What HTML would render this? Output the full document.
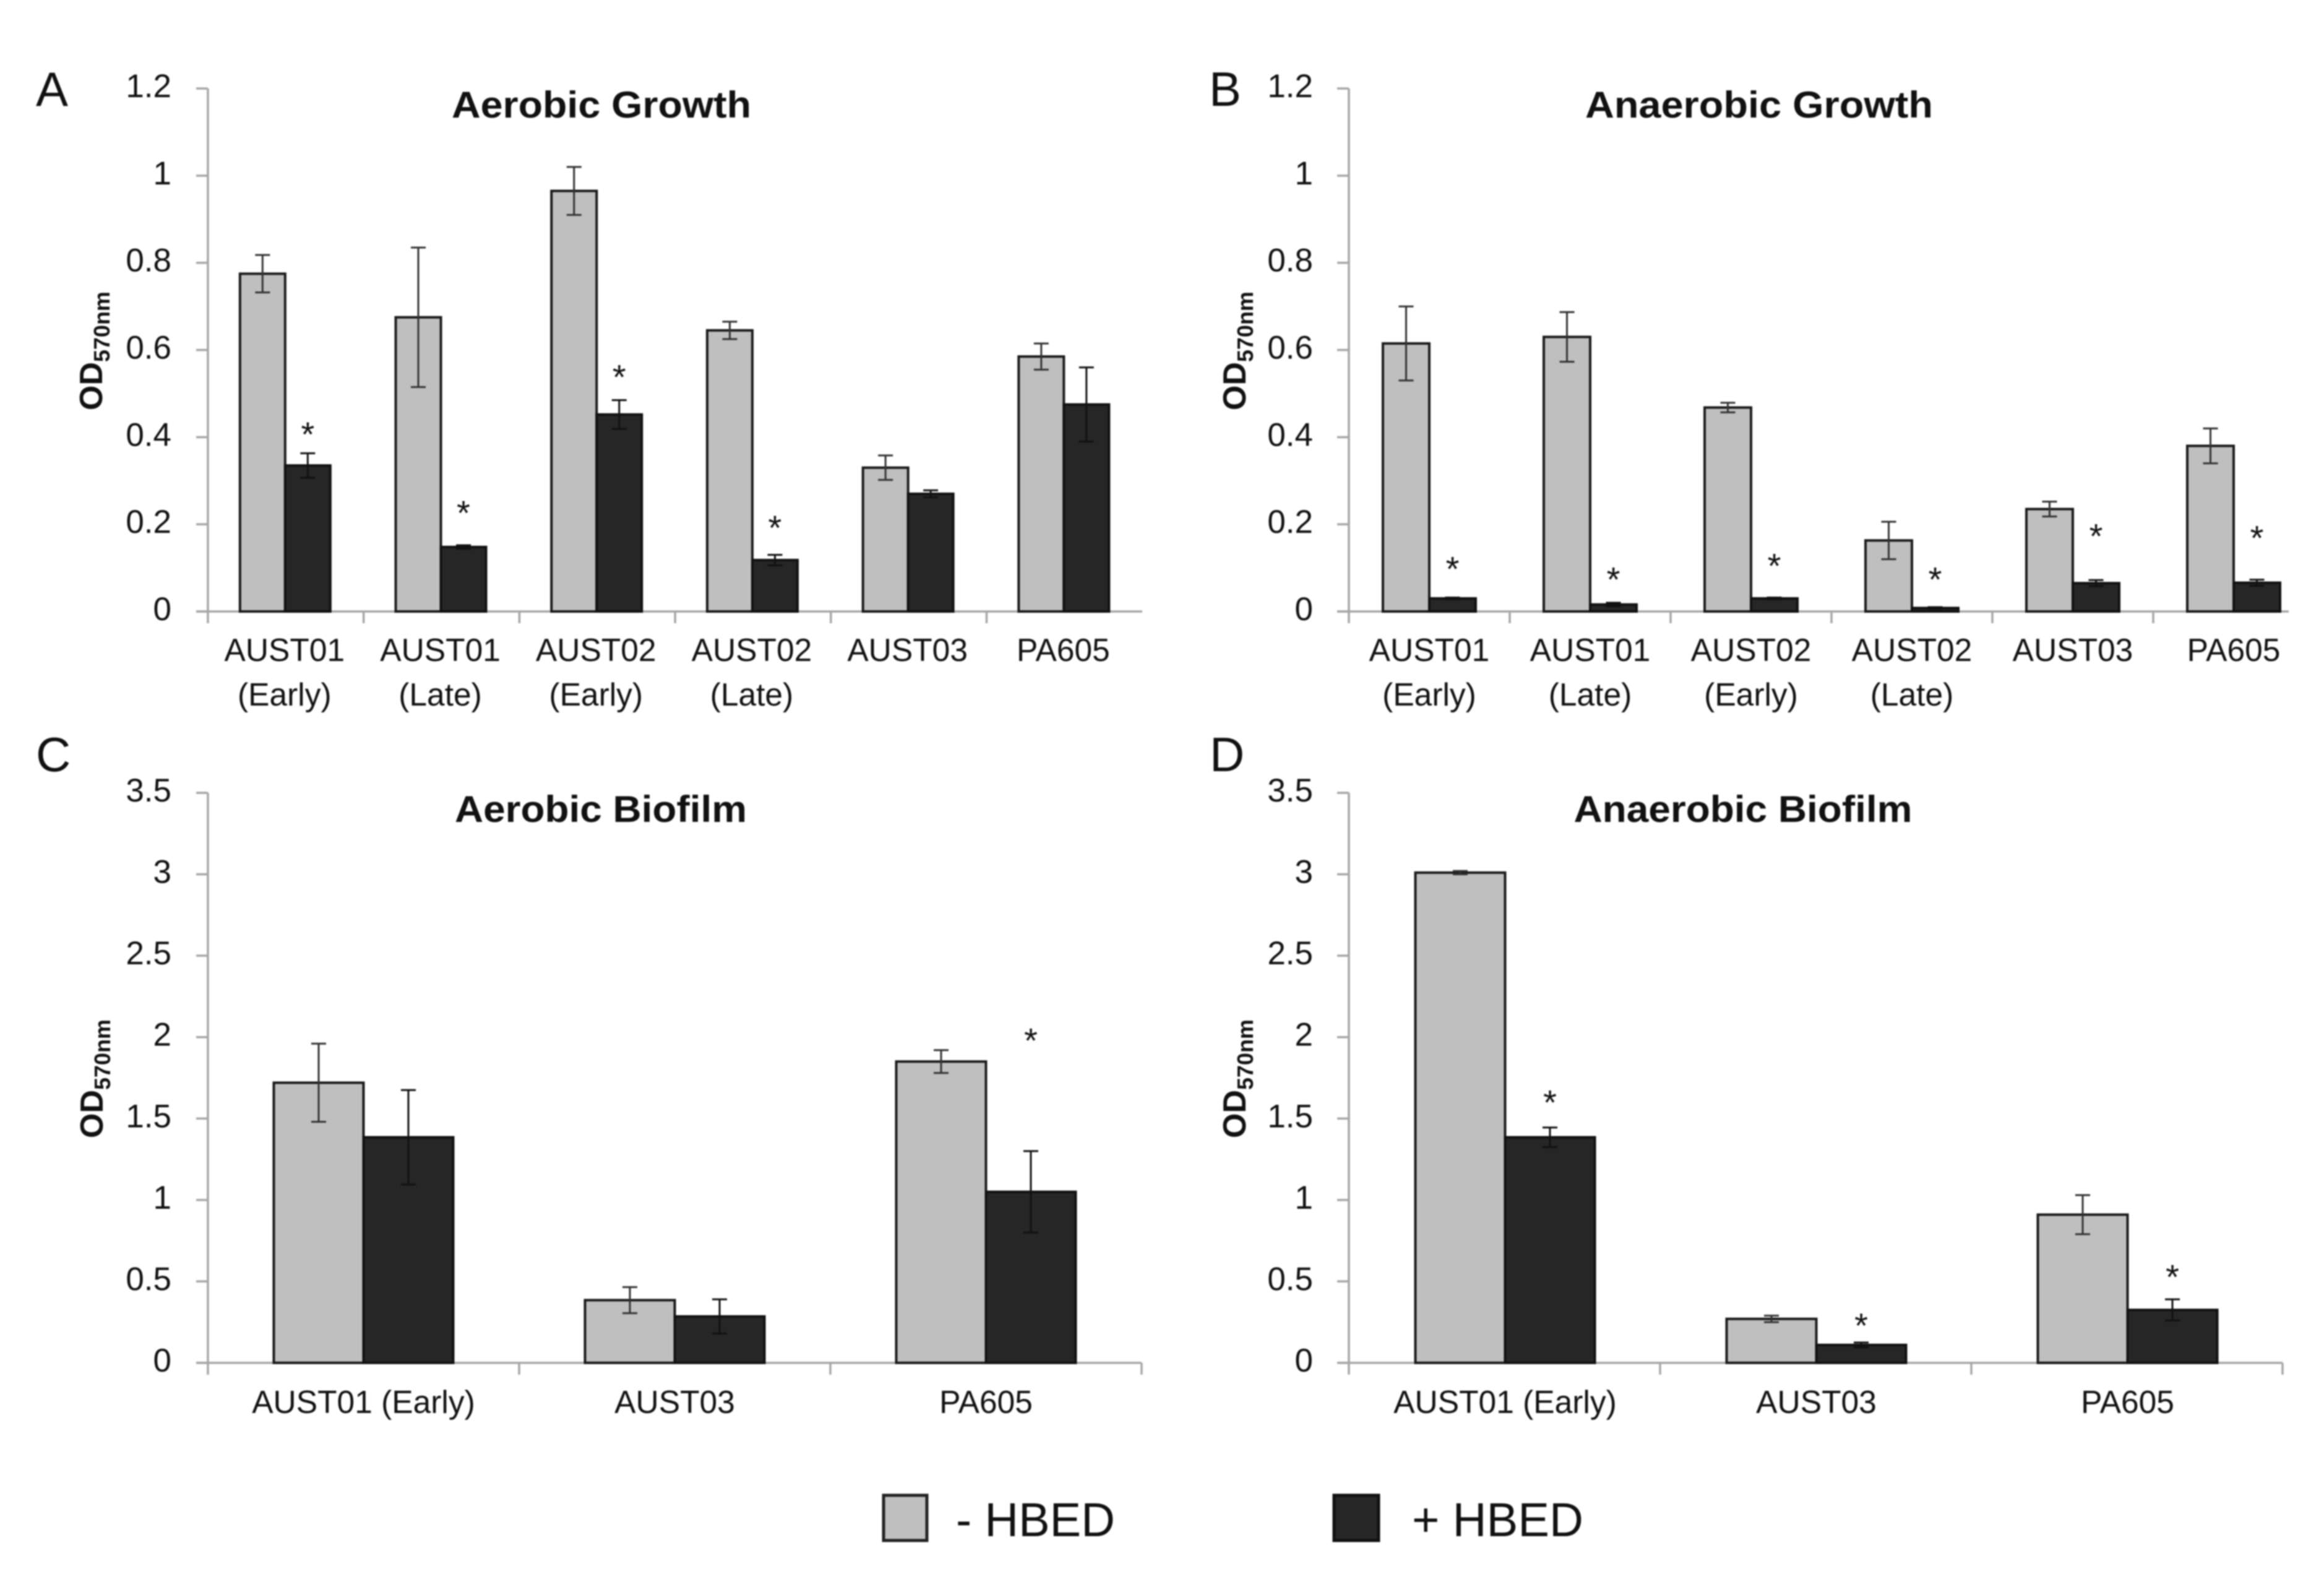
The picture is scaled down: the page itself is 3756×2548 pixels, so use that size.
<!DOCTYPE html>
<html lang="en">
<head>
<meta charset="utf-8">
<title>Growth and biofilm with and without HBED</title>
<style>
  html, body { margin: 0; padding: 0; background: #fff; width: 3756px; height: 2548px; overflow: hidden; }
  svg { display: block; filter: blur(1px); }
  text { font-family: "Liberation Sans", sans-serif; fill: #111; }
  .title { font-weight: bold; font-size: 60px; text-anchor: middle; }
  .letter { font-size: 78px; }
  .ytitle { font-weight: bold; font-size: 52px; }
  .ysub { font-size: 36px; }
  .tick { font-size: 53px; text-anchor: end; }
  .cat { font-size: 51.5px; text-anchor: middle; }
  .star { font-size: 56px; text-anchor: middle; }
  .legend { font-size: 77px; }
</style>
</head>
<body>
<svg id="figure" xmlns="http://www.w3.org/2000/svg" width="3756" height="2548" viewBox="0 0 3756 2548">
  <rect x="0" y="0" width="3756" height="2548" fill="#fff"/>

  <text class="letter" x="58" y="171">A</text>
  <text class="letter" x="1954" y="171">B</text>
  <text class="letter" x="58" y="1246">C</text>
  <text class="letter" x="1955" y="1246">D</text>

  <text class="title" x="972" y="190" textLength="484" lengthAdjust="spacingAndGlyphs">Aerobic Growth</text>
  <text class="title" x="2843" y="190" textLength="562" lengthAdjust="spacingAndGlyphs">Anaerobic Growth</text>
  <text class="title" x="971" y="1328" textLength="472" lengthAdjust="spacingAndGlyphs">Aerobic Biofilm</text>
  <text class="title" x="2817" y="1328" textLength="547" lengthAdjust="spacingAndGlyphs">Anaerobic Biofilm</text>

  <text class="ytitle" transform="translate(165 663) rotate(-90)">OD<tspan class="ysub" dy="12">570nm</tspan></text>
  <text class="ytitle" transform="translate(2013 663) rotate(-90)">OD<tspan class="ysub" dy="12">570nm</tspan></text>
  <text class="ytitle" transform="translate(166 1839) rotate(-90)">OD<tspan class="ysub" dy="12">570nm</tspan></text>
  <text class="ytitle" transform="translate(2013 1839) rotate(-90)">OD<tspan class="ysub" dy="12">570nm</tspan></text>

  <g id="panels"></g>

  <g>
    <rect x="1428" y="2416" width="70" height="73" fill="#bfbfbf" stroke="#222" stroke-width="5"/>
    <text class="legend" x="1545" y="2482" textLength="257" lengthAdjust="spacingAndGlyphs">- HBED</text>
    <rect x="2156" y="2416" width="72" height="73" fill="#262626" stroke="#111" stroke-width="5"/>
    <text class="legend" x="2282" y="2482" textLength="277" lengthAdjust="spacingAndGlyphs">+ HBED</text>
  </g>
</svg>

<script>
// Panel A: Aerobic Growth
const categoriesA = ['AUST01 (Early)', 'AUST01 (Late)', 'AUST02 (Early)', 'AUST02 (Late)', 'AUST03', 'PA605'];
const withoutA = [0.775, 0.675, 0.965, 0.645, 0.33, 0.585];
const withoutErrA = [0.043, 0.16, 0.055, 0.02, 0.028, 0.03];
const withA = [0.335, 0.148, 0.452, 0.118, 0.27, 0.475];
const withErrA = [0.028, 0.004, 0.033, 0.012, 0.008, 0.085];
const starsA = [0.415, 0.234, 0.546, 0.2, null, null];
const ticksA = [0, 0.2, 0.4, 0.6, 0.8, 1, 1.2];

// Panel B: Anaerobic Growth
const categoriesB = ['AUST01 (Early)', 'AUST01 (Late)', 'AUST02 (Early)', 'AUST02 (Late)', 'AUST03', 'PA605'];
const withoutB = [0.615, 0.63, 0.468, 0.163, 0.235, 0.38];
const withoutErrB = [0.085, 0.057, 0.011, 0.043, 0.017, 0.04];
const withB = [0.03, 0.016, 0.03, 0.008, 0.065, 0.066];
const withErrB = [0.002, 0.004, 0.002, 0.002, 0.007, 0.007];
const starsB = [0.106, 0.082, 0.113, 0.082, 0.181, 0.177];
const ticksB = [0, 0.2, 0.4, 0.6, 0.8, 1, 1.2];

// Panel C: Aerobic Biofilm
const categoriesC = ['AUST01 (Early)', 'AUST03', 'PA605'];
const withoutC = [1.72, 0.385, 1.85];
const withoutErrC = [0.24, 0.08, 0.07];
const withC = [1.385, 0.285, 1.05];
const withErrC = [0.29, 0.105, 0.25];
const starsC = [null, null, 2.0];
const ticksC = [0, 0.5, 1, 1.5, 2, 2.5, 3, 3.5];

// Panel D: Anaerobic Biofilm
const categoriesD = ['AUST01 (Early)', 'AUST03', 'PA605'];
const withoutD = [3.01, 0.27, 0.91];
const withoutErrD = [0.01, 0.02, 0.12];
const withD = [1.385, 0.11, 0.325];
const withErrD = [0.06, 0.015, 0.065];
const starsD = [1.62, 0.25, 0.55];
const ticksD = [0, 0.5, 1, 1.5, 2, 2.5, 3, 3.5];

const NS = 'http://www.w3.org/2000/svg';
const AXIS_COLOR = '#a6a6a6';

function make(parent, tag, attrs, txt) {
  const el = document.createElementNS(NS, tag);
  for (const k in attrs) el.setAttribute(k, attrs[k]);
  if (txt !== undefined) el.textContent = txt;
  parent.appendChild(el);
  return el;
}

function drawPanel(p) {
  const root = document.getElementById('panels');
  const g = make(root, 'g', {});
  
  

  const yMax = p.ticks[p.ticks.length - 1];
  const yScale = v => p.y0 - (v / yMax) * (p.y0 - p.yTop);
  const step = p.xStep;
  const xCenter = i => p.x0 + step * (i + 0.5) + p.barShift;

  // axes
  const yAxis = make(g, 'line', { x1: p.x0, x2: p.x0, y1: p.yTop, y2: p.y0 + 19, stroke: AXIS_COLOR, 'stroke-width': 3.5 });
  
  

  const xAxis = make(g, 'line', { x1: p.x0 - 19, x2: p.xEnd, y1: p.y0, y2: p.y0, stroke: AXIS_COLOR, 'stroke-width': 3.5 });
  
  

  // y ticks and labels
  p.ticks.forEach(t => {
    const y = yScale(t);
    const tick = make(g, 'line', { x1: p.x0 - 19, x2: p.x0, y1: y, y2: y, stroke: AXIS_COLOR, 'stroke-width': 3.5 });
    
    

    const label = make(g, 'text', { class: 'tick', x: p.tickLabelX, y: y + 14 }, String(t));
    
    
  });

  // x ticks
  for (let i = 1; i <= p.categories.length; i++) {
    const x = p.x0 + step * i;
    if (x > p.xEnd) break;
    const tick = make(g, 'line', { x1: x, x2: x, y1: p.y0, y2: p.y0 + 19, stroke: AXIS_COLOR, 'stroke-width': 3.5 });
    
    
  }

  // bars, error bars, stars, labels
  p.categories.forEach((cat, i) => {
    const c = xCenter(i);
    const series = [
      { name: 'minus-hbed', vals: p.without, errs: p.withoutErr, fill: '#bfbfbf', x: c - p.barW, stroke: '#1a1a1a' },
      { name: 'plus-hbed', vals: p.withH, errs: p.withErr, fill: '#262626', x: c, stroke: '#111' }
    ];
    series.forEach(s => {
      const top = yScale(s.vals[i]);
      const bar = make(g, 'rect', { x: s.x, y: top, width: p.barW, height: p.y0 - top, fill: s.fill, stroke: s.stroke, 'stroke-width': 4 });
      
      

      const ex = s.x + p.barW / 2;
      const hi = yScale(s.vals[i] + s.errs[i]);
      const lo = yScale(s.vals[i] - s.errs[i]);
      const errColor = s.name === 'minus-hbed' ? '#333' : '#111';
      const stem = make(g, 'line', { x1: ex, x2: ex, y1: hi, y2: lo, stroke: errColor, 'stroke-width': 3 });
      
      

      const capTop = make(g, 'line', { x1: ex - 12, x2: ex + 12, y1: hi, y2: hi, stroke: errColor, 'stroke-width': 3 });
      
      

      const capBottom = make(g, 'line', { x1: ex - 12, x2: ex + 12, y1: lo, y2: lo, stroke: errColor, 'stroke-width': 3 });
      
      
    });

    if (p.stars[i] !== null) {
      const star = make(g, 'text', { class: 'star', x: c + p.barW / 2, y: yScale(p.stars[i]) + 25 }, '*');
      
      
    }

    const lines = p.wrap ? cat.split(' ') : [cat];
    lines.forEach((line, li) => {
      const label = make(g, 'text', { class: 'cat', x: p.x0 + step * (i + 0.5) + p.labelShift, y: p.labelY + li * 72 }, line);
      
      
    });
  });
}

drawPanel({ id: 'a', categories: categoriesA, without: withoutA, withoutErr: withoutErrA, withH: withA, withErr: withErrA, stars: starsA, ticks: ticksA,
  x0: 336, xEnd: 1846, xStep: 251.7, y0: 988, yTop: 143, barW: 73, barShift: -1, labelShift: -2, tickLabelX: 277, labelY: 1068, wrap: true });
drawPanel({ id: 'b', categories: categoriesB, without: withoutB, withoutErr: withoutErrB, withH: withB, withErr: withErrB, stars: starsB, ticks: ticksB,
  x0: 2180, xEnd: 3699, xStep: 260, y0: 988, yTop: 143, barW: 75, barShift: 0, labelShift: 0, tickLabelX: 2122, labelY: 1068, wrap: true });
drawPanel({ id: 'c', categories: categoriesC, without: withoutC, withoutErr: withoutErrC, withH: withC, withErr: withErrC, stars: starsC, ticks: ticksC,
  x0: 336, xEnd: 1845, xStep: 503, y0: 2202, yTop: 1281, barW: 145, barShift: 0, labelShift: 0, tickLabelX: 277, labelY: 2283, wrap: false });
drawPanel({ id: 'd', categories: categoriesD, without: withoutD, withoutErr: withoutErrD, withH: withD, withErr: withErrD, stars: starsD, ticks: ticksD,
  x0: 2180, xEnd: 3689, xStep: 503, y0: 2202, yTop: 1281, barW: 145, barShift: 1, labelShift: 1, tickLabelX: 2122, labelY: 2283, wrap: false });
</script>
</body>
</html>
